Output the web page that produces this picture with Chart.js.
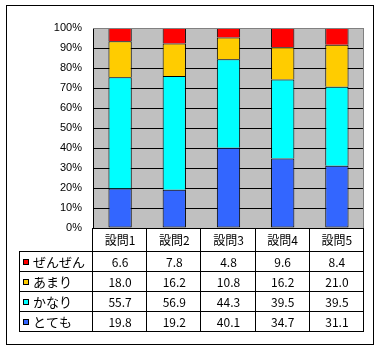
<!DOCTYPE html>
<html>
<head>
<meta charset="utf-8">
<script src="https://cdn.jsdelivr.net/npm/chart.js@4"></script>
<style>
  html, body { margin: 0; padding: 0; background: #fff; }
  canvas { display: block; }
</style>
</head>
<body>
<canvas id="c" width="380" height="348"></canvas>
<script>
// 設問ごとの回答割合 (%)
const questions = ["設問1", "設問2", "設問3", "設問4", "設問5"];
const totemo = [19.8, 19.2, 40.1, 34.7, 31.1];
const kanari = [55.7, 56.9, 44.3, 39.5, 39.5];
const amari = [18.0, 16.2, 10.8, 16.2, 21.0];
const zenzen = [6.6, 7.8, 4.8, 9.6, 8.4];
const yTicks = [0, 10, 20, 30, 40, 50, 60, 70, 80, 90, 100];

const seriesNames = ["とても", "かなり", "あまり", "ぜんぜん"];
const seriesData = [totemo, kanari, amari, zenzen];
const seriesColors = ["#3366FF", "#00FFFF", "#FFCC00", "#FF0000"];

// 100%積み上げ用に列ごとの合計で割る
const totals = questions.map((q, i) => seriesData.reduce((s, d) => s + d[i], 0));
const datasets = seriesData.map((d, k) => ({
  label: seriesNames[k],
  data: d.map((v, i) => v / totals[i] * 100),
  backgroundColor: seriesColors[k],
  borderColor: "#000",
  // 隣の系列と線が重ならないよう下辺は一番下の系列だけ
  borderWidth: { top: 1, left: 1, right: 1, bottom: k === 0 ? 1 : 0 },
  borderSkipped: false,
  categoryPercentage: 1,
  barPercentage: 0.43,
}));

const JP_FONT = '"Noto Sans CJK JP", "Liberation Sans", sans-serif';

// プロットエリアの灰色背景と外枠
const frame = {
  id: "frame",
  beforeDraw(chart) {
    const ctx = chart.ctx;
    const a = chart.chartArea;
    ctx.save();
    ctx.fillStyle = "#fff";
    ctx.fillRect(0, 0, chart.width, chart.height);
    ctx.fillStyle = "#C0C0C0";
    ctx.fillRect(a.left, a.top, a.right - a.left, a.bottom - a.top);
    ctx.strokeStyle = "#000";
    ctx.lineWidth = 1;
    ctx.strokeRect(6.5, 5.5, 367, 339);
    ctx.restore();
  },
  afterDatasetsDraw(chart) {
    const ctx = chart.ctx;
    const a = chart.chartArea;
    ctx.save();
    ctx.strokeStyle = "#808080";
    ctx.lineWidth = 1;
    ctx.beginPath();
    ctx.moveTo(a.left, a.top + 0.5);
    ctx.lineTo(a.right - 0.5, a.top + 0.5);
    ctx.lineTo(a.right - 0.5, a.bottom);
    ctx.stroke();
    ctx.restore();
  }
};

// グラフ下のデータテーブル
const dataTable = {
  id: "dataTable",
  afterDraw(chart) {
    const ctx = chart.ctx;
    const a = chart.chartArea;
    const x = chart.scales.x;
    const colW = (a.right - a.left) / questions.length;
    const tableLeft = 19.5;
    const headerBottom = a.bottom + 23;
    const rowH = 20;
    const rows = seriesNames.length;
    const tableBottom = headerBottom + rows * rowH;

    ctx.save();
    ctx.strokeStyle = "#000";
    ctx.lineWidth = 1;
    ctx.beginPath();
    // 横線
    ctx.moveTo(a.left, a.bottom + 0.5);
    ctx.lineTo(a.right, a.bottom + 0.5);
    for (let r = 0; r <= rows; r++) {
      const y = Math.round(headerBottom + r * rowH) + 0.5;
      ctx.moveTo(tableLeft, y);
      ctx.lineTo(a.right, y);
    }
    // 縦線
    ctx.moveTo(tableLeft, headerBottom);
    ctx.lineTo(tableLeft, tableBottom + 1);
    for (let c = 0; c <= questions.length; c++) {
      const xx = Math.round(a.left + c * colW) - 0.5;
      ctx.moveTo(xx, a.bottom);
      ctx.lineTo(xx, tableBottom + 1);
    }
    ctx.stroke();

    ctx.fillStyle = "#000";
    ctx.textAlign = "center";
    ctx.textBaseline = "middle";
    ctx.font = "12px " + JP_FONT;
    questions.forEach((q, i) => {
      ctx.fillText(q, x.getPixelForValue(i), (a.bottom + headerBottom) / 2 + 1);
    });

    // 上から ぜんぜん, あまり, かなり, とても
    for (let r = 0; r < rows; r++) {
      const k = rows - 1 - r;
      const yMid = headerBottom + r * rowH + rowH / 2 + 1;
      const ky = Math.round(yMid) - 3;
      ctx.fillStyle = seriesColors[k];
      ctx.fillRect(23, ky, 6, 6);
      ctx.strokeStyle = "#000";
      ctx.strokeRect(23.5, ky + 0.5, 5, 5);
      ctx.fillStyle = "#000";
      ctx.textAlign = "left";
      ctx.font = "13px " + JP_FONT;
      ctx.fillText(seriesNames[k], 33, yMid);
      ctx.textAlign = "center";
      ctx.font = "12px " + JP_FONT;
      seriesData[k].forEach((v, i) => {
        ctx.fillText(v.toFixed(1), x.getPixelForValue(i), yMid);
      });
    }
    ctx.restore();
  }
};

new Chart(document.getElementById("c"), {
  type: "bar",
  data: { labels: questions, datasets: datasets },
  options: {
    responsive: false,
    animation: false,
    devicePixelRatio: 1,
    layout: { padding: { left: 0, top: 28, right: 16, bottom: 120 } },
    plugins: { legend: { display: false }, tooltip: { enabled: false } },
    scales: {
      x: {
        stacked: true,
        ticks: { display: false },
        grid: { display: false },
        border: { display: false },
        afterFit: (s) => { s.height = 0; }
      },
      y: {
        stacked: true,
        min: 0,
        max: 100,
        afterBuildTicks: (s) => { s.ticks = yTicks.map(v => ({ value: v })); },
        afterFit: (s) => { s.width = 93; },
        ticks: {
          color: "#000",
          padding: 11,
          font: { family: '"Liberation Sans", sans-serif', size: 11 },
          callback: (v) => v + "%"
        },
        grid: {
          drawTicks: false,
          color: (c) => (c.tick && c.tick.value === 100) ? "#808080" : "#000",
          lineWidth: 1
        },
        border: { display: true, color: "#000" }
      }
    }
  },
  plugins: [frame, dataTable]
});
</script>
</body>
</html>
